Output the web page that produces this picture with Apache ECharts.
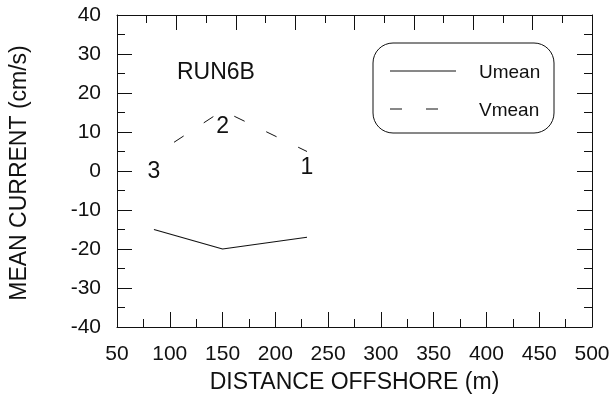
<!DOCTYPE html>
<html>
<head>
<meta charset="utf-8">
<title>RUN6B mean current</title>
<script src="https://cdn.jsdelivr.net/npm/echarts@6/dist/echarts.min.js"></script>
<style>
  html, body { margin: 0; padding: 0; background: #fff; }
  #chart { width: 613px; height: 399px; }
</style>
</head>
<body>
<div id="chart"></div>
<script>
// Cross-shore current profile, run 6B
const distance = [85, 150, 230];          // m offshore
const umean = [-15, -20, -17];            // cm/s
const vmean = [4, 15.5, 5];               // cm/s
const stationLabels = ['3', '2', '1'];    // station number at each distance
const seriesNames = ['Umean', 'Vmean'];

const FONT = 'Liberation Sans, Arial, sans-serif';
const INK = '#111';
const VDASH = [11.5, 24];

const chart = echarts.init(document.getElementById('chart'), null, { renderer: 'canvas' });

const frameAxis = {
  axisLine: { show: true, onZero: false, lineStyle: { color: INK, width: 1 } },
  axisTick: { show: true, inside: true, length: 15, lineStyle: { color: INK, width: 1 } },
  minorTick: { show: true, splitNumber: 2, length: 8, lineStyle: { color: INK, width: 1 } },
  splitLine: { show: false },
  minorSplitLine: { show: false }
};

// Key box in the upper right: rounded frame, line samples and series names
const keyBox = { x: 373, y: 43, w: 181, h: 90 };
const keyRows = [
  { name: seriesNames[0], y: 71, dash: null },
  { name: seriesNames[1], y: 109, dash: [12, 24] }
];
const keyGraphics = [
  { type: 'rect', shape: { x: keyBox.x, y: keyBox.y, width: keyBox.w, height: keyBox.h, r: 20 },
    style: { fill: 'none', stroke: INK, lineWidth: 1 } }
];
keyRows.forEach(row => {
  keyGraphics.push({
    type: 'line', shape: { x1: keyBox.x + 17, y1: row.y, x2: keyBox.x + 83, y2: row.y },
    style: { stroke: INK, lineWidth: 1, lineDash: row.dash || null }
  });
  keyGraphics.push({
    type: 'text', x: keyBox.x + 106, y: row.y + 2,
    style: { text: row.name, font: '19px ' + FONT, fill: INK, verticalAlign: 'middle', align: 'left' }
  });
});

chart.setOption({
  animation: false,
  backgroundColor: '#fff',
  grid: { left: 117, right: 21, top: 15, bottom: 67, containLabel: false },
  textStyle: { fontFamily: FONT, color: INK },
  xAxis: [
    Object.assign({
      type: 'value', position: 'bottom', min: 50, max: 500, interval: 50,
      name: 'DISTANCE OFFSHORE (m)', nameLocation: 'middle', nameGap: 44,
      nameTextStyle: { fontSize: 23, color: INK, fontFamily: FONT },
      axisLabel: { fontSize: 21, color: INK, fontFamily: FONT, margin: 17 }
    }, frameAxis),
    Object.assign({
      type: 'value', position: 'top', min: 0, max: 16, interval: 2,
      axisLabel: { show: false }
    }, frameAxis)
  ],
  yAxis: [
    Object.assign({
      type: 'value', position: 'left', min: -40, max: 40, interval: 10,
      name: 'MEAN CURRENT (cm/s)', nameLocation: 'middle', nameGap: 86, nameRotate: 90,
      nameTextStyle: { fontSize: 23, color: INK, fontFamily: FONT, padding: [0, 4, 0, 0] },
      axisLabel: { fontSize: 21, color: INK, fontFamily: FONT, margin: 16 }
    }, frameAxis),
    Object.assign({
      type: 'value', position: 'right', min: -40, max: 40, interval: 10,
      axisLabel: { show: false }
    }, frameAxis)
  ],
  graphic: [
    { type: 'text', left: 177, top: 61, style: { text: 'RUN6B', font: '23px ' + FONT, fill: INK } }
  ].concat(keyGraphics),
  series: [
    {
      name: seriesNames[0], type: 'line', xAxisIndex: 0, yAxisIndex: 0,
      data: distance.map((d, i) => [d, umean[i]]),
      symbol: 'none', showSymbol: false,
      lineStyle: { color: INK, width: 1.1, type: 'solid' },
      itemStyle: { color: INK }
    },
    {
      name: seriesNames[1], type: 'line', xAxisIndex: 0, yAxisIndex: 0,
      data: distance.map((d, i) => ({ value: [d, vmean[i]], label: { formatter: stationLabels[i] } })),
      symbol: 'circle', symbolSize: 1, showSymbol: true,
      itemStyle: { color: 'rgba(0,0,0,0)' },
      lineStyle: { color: INK, width: 1, type: VDASH, dashOffset: VDASH[0] },
      label: { show: true, position: 'bottom', distance: 4, fontSize: 23, color: INK, fontFamily: FONT }
    }
  ]
});
</script>
</body>
</html>
